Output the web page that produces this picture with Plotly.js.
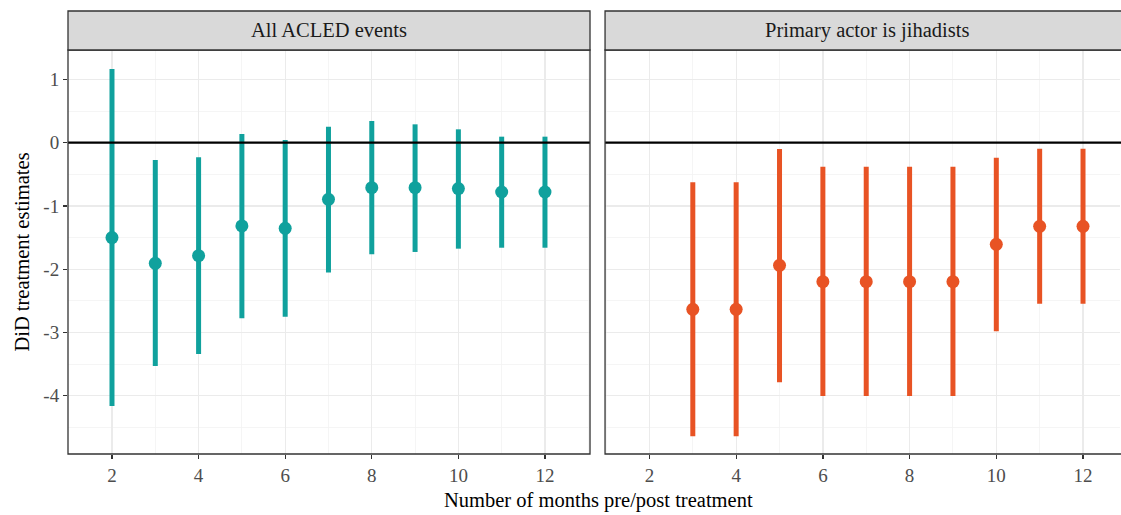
<!DOCTYPE html>
<html>
<head>
<meta charset="utf-8">
<script src="https://cdn.plot.ly/plotly-3.0.1.min.js"></script>
<style>html,body{margin:0;padding:0;background:#fff;}#chart{width:1121px;height:515px;}</style>
</head>
<body>
<div id="chart"></div>
<script>
// Panel titles
const panelTitles = ["All ACLED events", "Primary actor is jihadists"];

// Panel 1: All ACLED events
const monthsAll = [2, 3, 4, 5, 6, 7, 8, 9, 10, 11, 12];
const estAll    = [-1.50, -1.906, -1.785, -1.316, -1.353, -0.895, -0.711, -0.711, -0.726, -0.779, -0.779];
const upperAll  = [1.165, -0.273, -0.231, 0.137, 0.043, 0.253, 0.343, 0.29, 0.211, 0.095, 0.095];
const lowerAll  = [-4.16, -3.53, -3.34, -2.775, -2.75, -2.05, -1.765, -1.727, -1.675, -1.66, -1.66];

// Panel 2: Primary actor is jihadists
const monthsJih = [3, 4, 5, 6, 7, 8, 9, 10, 11, 12];
const estJih    = [-2.633, -2.633, -1.938, -2.196, -2.196, -2.196, -2.196, -1.606, -1.322, -1.322];
const upperJih  = [-0.626, -0.626, -0.10, -0.379, -0.379, -0.379, -0.379, -0.237, -0.095, -0.095];
const lowerJih  = [-4.64, -4.64, -3.787, -4.003, -4.003, -4.003, -4.003, -2.98, -2.544, -2.544];

const xTicks = [2, 4, 6, 8, 10, 12];
const yTicks = [-4, -3, -2, -1, 0, 1];

const teal = "#10A19D";
const orange = "#E85324";
const FONT = "Liberation Serif, Times New Roman, serif";
const TITLE_SIZE = 20.5;
const TICK_SIZE = 19;

function diff(a, b) { return a.map((v, i) => v - b[i]); }

const traces = [
  {
    x: monthsAll, y: estAll, type: "scatter", mode: "markers",
    xaxis: "x", yaxis: "y",
    marker: {color: teal, size: 13},
    error_y: {type: "data", symmetric: false, array: diff(upperAll, estAll), arrayminus: diff(estAll, lowerAll),
              color: teal, thickness: 5, width: 0},
    hoverinfo: "x+y", showlegend: false
  },
  {
    x: monthsJih, y: estJih, type: "scatter", mode: "markers",
    xaxis: "x2", yaxis: "y2",
    marker: {color: orange, size: 13},
    error_y: {type: "data", symmetric: false, array: diff(upperJih, estJih), arrayminus: diff(estJih, lowerJih),
              color: orange, thickness: 5, width: 0},
    hoverinfo: "x+y", showlegend: false
  }
];

const yRange = [-4.92, 1.465];
const panelTop = 0.912;
const leftDom = [0, 0.4962];
const rightDom = [0.5105, 1];

const commonX = {
  tickmode: "array", tickvals: xTicks, ticktext: xTicks.map(String),
  ticks: "outside", ticklen: 4, tickwidth: 1.3, tickcolor: "#333333",
  tickfont: {family: FONT, size: TICK_SIZE, color: "#4D4D4D"},
  showgrid: true, gridcolor: "#EBEBEB", gridwidth: 1.3,
  minor: {dtick: 1, tick0: 1, showgrid: true, gridcolor: "#F2F2F2", gridwidth: 0.8, ticks: ""},
  showline: false, zeroline: false, fixedrange: true
};
const commonY = {
  range: yRange, tickmode: "array", tickvals: yTicks, ticktext: yTicks.map(String),
  showgrid: true, gridcolor: "#EBEBEB", gridwidth: 1.3,
  minor: {dtick: 0.5, tick0: 0.5, showgrid: true, gridcolor: "#F2F2F2", gridwidth: 0.8, ticks: ""},
  zeroline: false, showline: false, domain: [0, panelTop], fixedrange: true
};

const layout = {
  width: 1121, height: 515,
  margin: {l: 68, r: 1, t: 11, b: 61},
  paper_bgcolor: "#FFFFFF", plot_bgcolor: "#FFFFFF",
  font: {family: FONT},
  showlegend: false,
  xaxis: Object.assign({}, commonX, {domain: leftDom, range: [0.984, 13.04], anchor: "y"}),
  xaxis2: Object.assign({}, commonX, {domain: rightDom, range: [0.976, 12.853], anchor: "y2"}),
  yaxis: Object.assign({}, commonY, {
    anchor: "x", ticks: "outside", ticklen: 4, tickwidth: 1.3, tickcolor: "#333333",
    tickfont: {family: FONT, size: TICK_SIZE, color: "#4D4D4D"},
    title: {text: "DiD treatment estimates", font: {family: FONT, size: TITLE_SIZE, color: "#000000"}, standoff: 8}
  }),
  yaxis2: Object.assign({}, commonY, {anchor: "x2", showticklabels: false, ticks: "", matches: "y"}),
  shapes: [
    // zero lines
    {type: "line", xref: "x domain", yref: "y", x0: 0, x1: 1, y0: 0, y1: 0, line: {color: "#000000", width: 2.2}, layer: "above"},
    {type: "line", xref: "x2 domain", yref: "y2", x0: 0, x1: 1.02, y0: 0, y1: 0, line: {color: "#000000", width: 2.2}, layer: "above"},
    // panel borders
    {type: "rect", xref: "paper", yref: "paper", x0: leftDom[0], x1: leftDom[1], y0: 0, y1: panelTop, line: {color: "#333333", width: 1.3}, fillcolor: "rgba(0,0,0,0)", layer: "above"},
    {type: "rect", xref: "paper", yref: "paper", x0: rightDom[0], x1: 1.01, y0: 0, y1: panelTop, line: {color: "#333333", width: 1.3}, fillcolor: "rgba(0,0,0,0)", layer: "above"},
    // strips
    {type: "rect", xref: "paper", yref: "paper", x0: leftDom[0], x1: leftDom[1], y0: panelTop, y1: 1, line: {color: "#333333", width: 1.3}, fillcolor: "#D9D9D9", layer: "above"},
    {type: "rect", xref: "paper", yref: "paper", x0: rightDom[0], x1: 1.01, y0: panelTop, y1: 1, line: {color: "#333333", width: 1.3}, fillcolor: "#D9D9D9", layer: "above"}
  ],
  annotations: [
    {text: panelTitles[0], xref: "paper", yref: "paper", x: (leftDom[0] + leftDom[1]) / 2, y: (panelTop + 1) / 2,
     xanchor: "center", yanchor: "middle", showarrow: false, font: {family: FONT, size: TITLE_SIZE, color: "#1A1A1A"}},
    {text: panelTitles[1], xref: "paper", yref: "paper", x: (rightDom[0] + 1.0076) / 2, y: (panelTop + 1) / 2,
     xanchor: "center", yanchor: "middle", showarrow: false, font: {family: FONT, size: TITLE_SIZE, color: "#1A1A1A"}},
    {text: "Number of months pre/post treatment", xref: "paper", yref: "paper", x: 0.504, y: -0.074,
     xanchor: "center", yanchor: "top", showarrow: false, font: {family: FONT, size: TITLE_SIZE, color: "#000000"}}
  ]
};

Plotly.newPlot("chart", traces, layout, {displayModeBar: false, staticPlot: true});
</script>
</body>
</html>
